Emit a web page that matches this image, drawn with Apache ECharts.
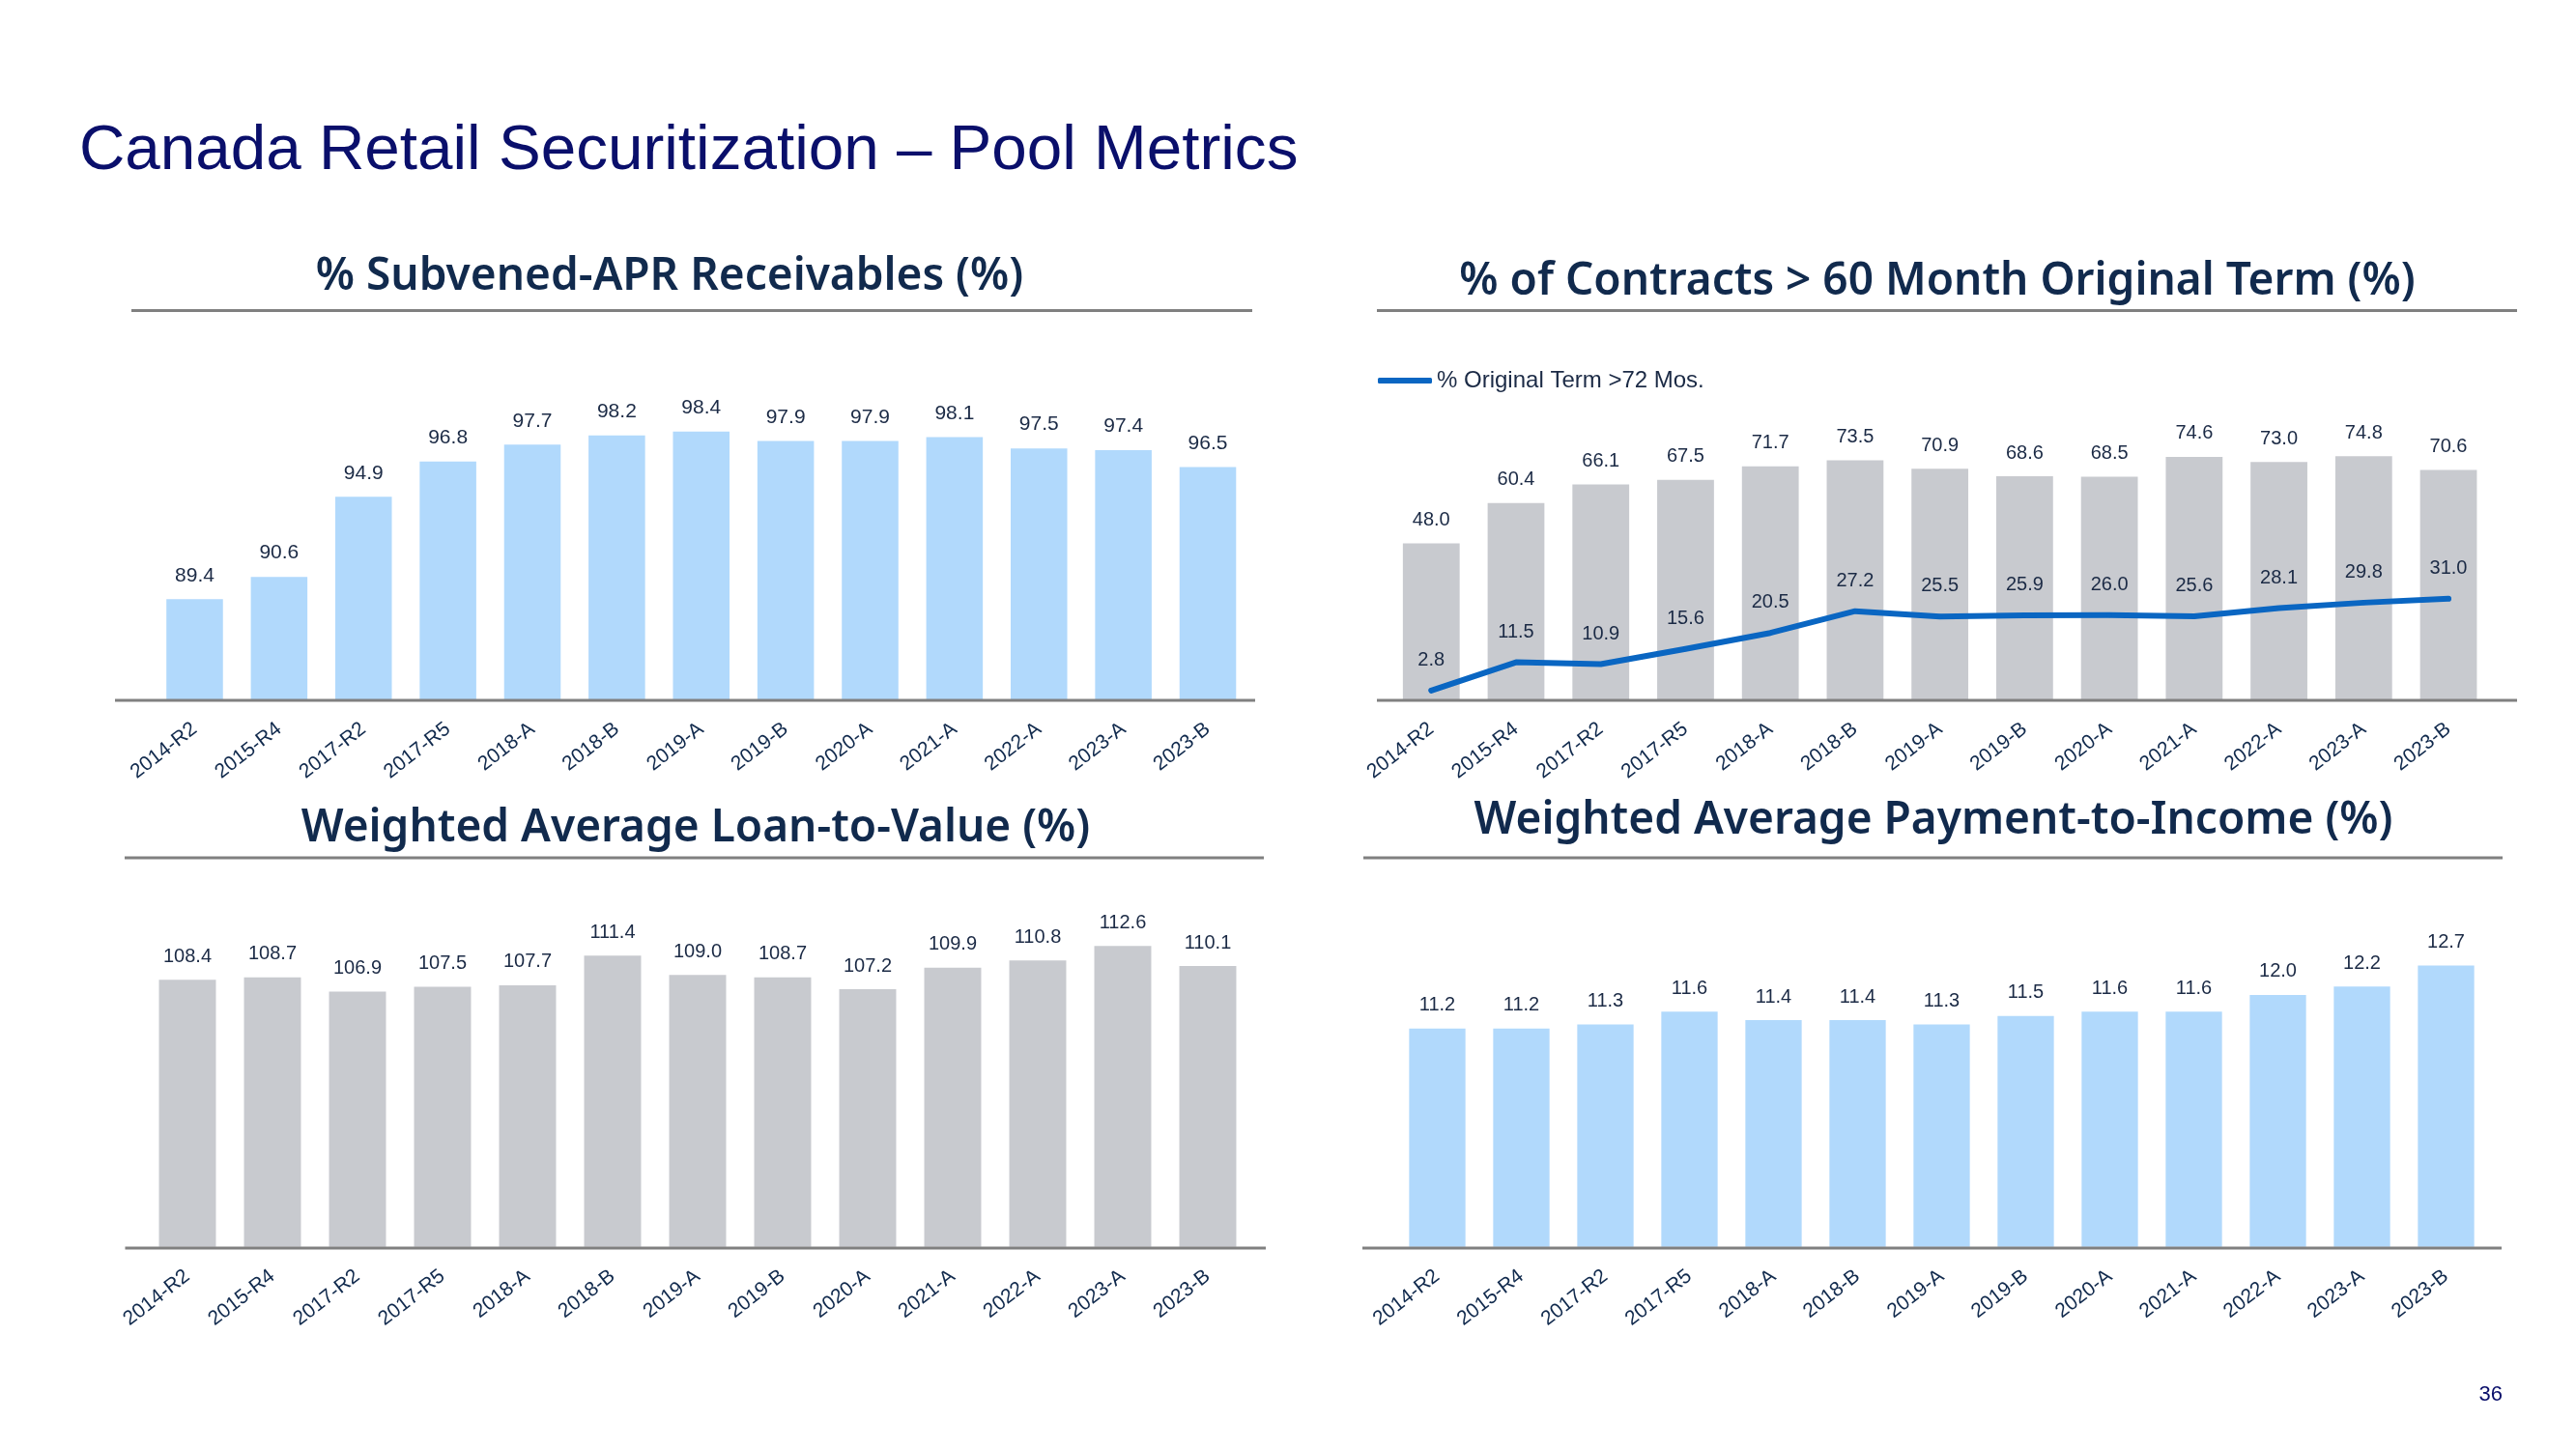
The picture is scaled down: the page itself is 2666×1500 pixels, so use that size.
<!DOCTYPE html>
<html>
<head>
<meta charset="utf-8">
<script src="https://cdn.jsdelivr.net/npm/echarts@6/dist/echarts.min.js"></script>
<style>
html,body{margin:0;padding:0;background:#fff;}
#c{width:2666px;height:1500px;}
</style>
</head>
<body>
<div id="c"></div>
<script>
const categories = ['2014-R2','2015-R4','2017-R2','2017-R5','2018-A','2018-B','2019-A','2019-B','2020-A','2021-A','2022-A','2023-A','2023-B'];
const subvenedAPR = [89.4,90.6,94.9,96.8,97.7,98.2,98.4,97.9,97.9,98.1,97.5,97.4,96.5];
const termOver60 = [48.0,60.4,66.1,67.5,71.7,73.5,70.9,68.6,68.5,74.6,73.0,74.8,70.6];
const termOver72 = [2.8,11.5,10.9,15.6,20.5,27.2,25.5,25.9,26.0,25.6,28.1,29.8,31.0];
const ltv = [108.4,108.7,106.9,107.5,107.7,111.4,109.0,108.7,107.2,109.9,110.8,112.6,110.1];
const pti = [11.2,11.2,11.3,11.6,11.4,11.4,11.3,11.5,11.6,11.6,12.0,12.2,12.7];

const pageTitle = 'Canada Retail Securitization \u2013 Pool Metrics';
const subTitles = ['% Subvened-APR Receivables (%)','% of Contracts > 60 Month Original Term (%)','Weighted Average Loan-to-Value (%)','Weighted Average Payment-to-Income (%)'];
const lineName = '% Original Term >72 Mos.';
const pageNumber = '36';

const NAVY = '#0a0f6b';
const SUBNAVY = '#112a4d';
const LABEL = '#1b2a45';
const BLUE_BAR = '#b1d9fc';
const GRAY_BAR = '#c8cacf';
const LINE_BLUE = '#0a66c2';
const RULE = '#808080';
const FONT = '"Liberation Sans", Arial, sans-serif';

const fmt = p => Number(p.value).toFixed(1);

function xAxis(gi){
  return {
    type:'category', gridIndex:gi, data:categories,
    axisLine:{show:false}, axisTick:{show:false},
    axisLabel:{interval:0, rotate:38, margin:28, fontSize:21, fontFamily:FONT, color:SUBNAVY}
  };
}
function yAxis(gi,min,max){
  return {type:'value', gridIndex:gi, min:min, max:max, show:false, splitLine:{show:false}};
}
function barSeries(gi,data,color,fs){
  return {
    type:'bar', xAxisIndex:gi, yAxisIndex:gi, data:data, barCategoryGap:'33%',
    itemStyle:{color:color},
    label:{show:true, position:'top', distance:14, formatter:fmt, fontSize:fs, fontFamily:FONT, color:LABEL},
    silent:true, animation:false
  };
}
function hline(x1,x2,y){
  return {type:'line', shape:{x1:x1,y1:y,x2:x2,y2:y}, style:{stroke:RULE, lineWidth:3}, z:10, silent:true};
}
function txt(t,x,y,font,fill,align){
  return {type:'text', style:{text:t, x:x, y:y, font:font, fill:fill, align:align, textAlign:align, verticalAlign:'middle', textVerticalAlign:'middle'}, z:10, silent:true};
}

const subFont = '600 46px "Noto Sans", "Open Sans", sans-serif';

const option = {
  animation:false,
  backgroundColor:'#ffffff',
  grid:[
    {left:157.8, top:416, width:1135.9, height:308.3},
    {left:1437.4, top:454.7, width:1140.5, height:269.6},
    {left:150, top:959.5, width:1144, height:331.2},
    {left:1444, top:986.5, width:1131, height:304.2}
  ],
  xAxis:[xAxis(0),xAxis(1),xAxis(2),xAxis(3)],
  yAxis:[yAxis(0,84,100),yAxis(1,0,80),yAxis(2,75,115),yAxis(3,6,13)],
  legend:{
    data:[lineName], left:1421, top:377, icon:'roundRect', itemWidth:56, itemHeight:6, itemGap:5,
    textStyle:{fontSize:24, fontFamily:FONT, color:LABEL}, selectedMode:false
  },
  series:[
    barSeries(0,subvenedAPR,BLUE_BAR,21),
    Object.assign(barSeries(1,termOver60,GRAY_BAR,20),{name:'% Contracts >60 Mos.'}),
    {
      type:'line', name:lineName, xAxisIndex:1, yAxisIndex:1, data:termOver72,
      symbol:'circle', symbolSize:5, showSymbol:true,
      itemStyle:{color:LINE_BLUE},
      lineStyle:{color:LINE_BLUE, width:6, cap:'round', join:'round'},
      label:{show:true, position:'top', distance:19, formatter:fmt, fontSize:20, fontFamily:FONT, color:LABEL},
      z:5, silent:true, animation:false
    },
    barSeries(2,ltv,GRAY_BAR,20),
    barSeries(3,pti,BLUE_BAR,20)
  ],
  graphic:[
    txt(pageTitle,82,157,'normal 65.6px '+FONT,NAVY,'left'),
    txt(subTitles[0],693,287,subFont,SUBNAVY,'center'),
    txt(subTitles[1],2005,292,subFont,SUBNAVY,'center'),
    txt(subTitles[2],720,858,subFont,SUBNAVY,'center'),
    txt(subTitles[3],2001,850,subFont,SUBNAVY,'center'),
    hline(136,1296,321.5),
    hline(1425,2605,321.5),
    hline(129,1308,888),
    hline(1411,2590,888),
    hline(119,1299,725),
    hline(1425,2605,725),
    hline(129.5,1310,1292),
    hline(1410,2589,1292),
    txt(pageNumber,2590,1444,'normal 22px '+FONT,NAVY,'right')
  ]
};

const chart = echarts.init(document.getElementById('c'), null, {renderer:'canvas', width:2666, height:1500});
chart.setOption(option);
</script>
</body>
</html>
